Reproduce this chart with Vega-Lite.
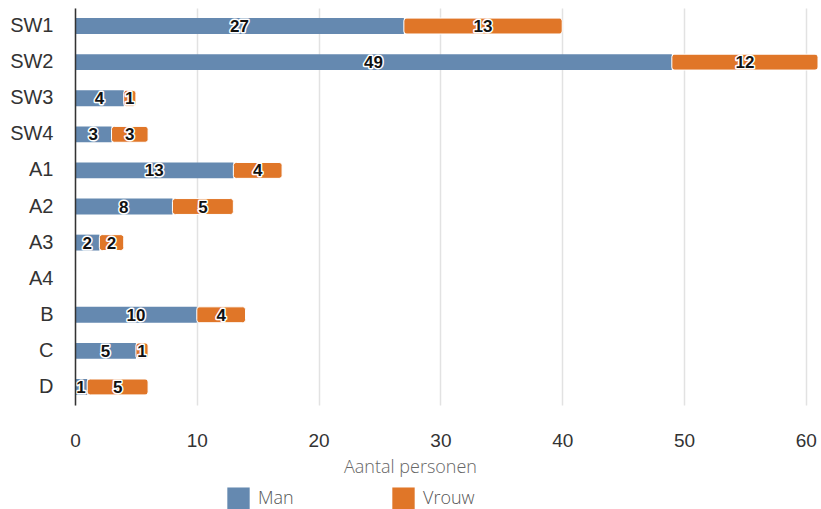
{
  "$schema": "https://vega.github.io/schema/vega-lite/v6.json",
  "width": 743,
  "height": 397,
  "autosize": {"type": "none"},
  "padding": {"left": 75, "top": 8, "right": 3, "bottom": 104},
  "background": "white",
  "config": {"view": {"stroke": null}},
  "data": {
    "values": [
      {"cat": "SW1", "sex": "Man", "n": 27}, {"cat": "SW1", "sex": "Vrouw", "n": 13},
      {"cat": "SW2", "sex": "Man", "n": 49}, {"cat": "SW2", "sex": "Vrouw", "n": 12},
      {"cat": "SW3", "sex": "Man", "n": 4}, {"cat": "SW3", "sex": "Vrouw", "n": 1},
      {"cat": "SW4", "sex": "Man", "n": 3}, {"cat": "SW4", "sex": "Vrouw", "n": 3},
      {"cat": "A1", "sex": "Man", "n": 13}, {"cat": "A1", "sex": "Vrouw", "n": 4},
      {"cat": "A2", "sex": "Man", "n": 8}, {"cat": "A2", "sex": "Vrouw", "n": 5},
      {"cat": "A3", "sex": "Man", "n": 2}, {"cat": "A3", "sex": "Vrouw", "n": 2},
      {"cat": "A4", "sex": "Man", "n": 0}, {"cat": "A4", "sex": "Vrouw", "n": 0},
      {"cat": "B", "sex": "Man", "n": 10}, {"cat": "B", "sex": "Vrouw", "n": 4},
      {"cat": "C", "sex": "Man", "n": 5}, {"cat": "C", "sex": "Vrouw", "n": 1},
      {"cat": "D", "sex": "Man", "n": 1}, {"cat": "D", "sex": "Vrouw", "n": 5}
    ]
  },
  "transform": [
    {"stack": "n", "groupby": ["cat"], "sort": [{"field": "sex", "order": "ascending"}], "as": ["x0", "x1"]}
  ],
  "encoding": {
    "y": {
      "field": "cat", "type": "nominal",
      "sort": ["SW1", "SW2", "SW3", "SW4", "A1", "A2", "A3", "A4", "B", "C", "D"],
      "scale": {"paddingInner": 0.56, "paddingOuter": 0.28},
      "axis": {
        "title": null, "ticks": false, "grid": false,
        "domainColor": "#333333", "domainWidth": 1.5,
        "labelFont": "Liberation Sans", "labelFontSize": 20, "labelColor": "#333333",
        "labelPadding": 22, "zindex": 1
      }
    }
  },
  "layer": [
    {
      "transform": [{"filter": "datum.sex === 'Man'"}],
      "mark": {"type": "bar"},
      "encoding": {
        "x": {
          "field": "x0", "type": "quantitative",
          "scale": {"domain": [0, 61], "nice": false},
          "axis": {
            "values": [0, 10, 20, 30, 40, 50, 60],
            "title": "Aantal personen", "titleFont": "Open Sans", "titleFontWeight": 300,
            "titleFontSize": 18, "titleColor": "#666666", "titlePadding": 8,
            "titleX": 335, "titleAlign": "center", "titleAnchor": null,
            "domain": false, "ticks": false, "labelFlush": false,
            "gridColor": "#e2e2e2", "gridWidth": 1.5,
            "labelFont": "Liberation Sans", "labelFontSize": 19, "labelColor": "#333333",
            "labelPadding": 26
          }
        },
        "x2": {"field": "x1"},
        "color": {
          "field": "sex", "type": "nominal",
          "scale": {"domain": ["Man", "Vrouw"], "range": ["#6589b0", "#e07628"]},
          "legend": {
            "title": null, "orient": "none", "direction": "horizontal", "columns": 2,
            "legendX": 152, "legendY": 479, "padding": 0,
            "symbolType": "square", "symbolSize": 500, "symbolStrokeWidth": 0, "symbolOpacity": 1,
            "labelFont": "Open Sans", "labelFontWeight": 300, "labelFontSize": 18, "labelColor": "#555555",
            "labelOffset": 8, "columnPadding": 98
          }
        }
      }
    },
    {
      "transform": [{"filter": "datum.sex === 'Vrouw'"}],
      "mark": {"type": "bar", "cornerRadiusEnd": 3, "stroke": "white", "strokeWidth": 1},
      "encoding": {
        "x": {"field": "x0", "type": "quantitative"},
        "x2": {"field": "x1"},
        "color": {"field": "sex", "type": "nominal"}
      }
    },
    {
      "transform": [
        {"filter": "datum.n > 0"},
        {"fold": ["x0", "x1"], "as": ["edge", "pos"]}
      ],
      "mark": {"type": "text", "font": "Liberation Sans", "fontWeight": "bold", "fontSize": 17, "fill": "white", "stroke": "white", "strokeWidth": 3, "strokeJoin": "round", "baseline": "middle", "align": "center", "dy": 1},
      "encoding": {
        "x": {"aggregate": "mean", "field": "pos", "type": "quantitative"},
        "detail": {"field": "sex"},
        "text": {"field": "n", "type": "quantitative"}
      }
    },
    {
      "transform": [
        {"filter": "datum.n > 0"},
        {"fold": ["x0", "x1"], "as": ["edge", "pos"]}
      ],
      "mark": {"type": "text", "font": "Liberation Sans", "fontWeight": "bold", "fontSize": 17, "fill": "#111111", "baseline": "middle", "align": "center", "dy": 1},
      "encoding": {
        "x": {"aggregate": "mean", "field": "pos", "type": "quantitative"},
        "detail": {"field": "sex"},
        "text": {"field": "n", "type": "quantitative"}
      }
    }
  ]
}
